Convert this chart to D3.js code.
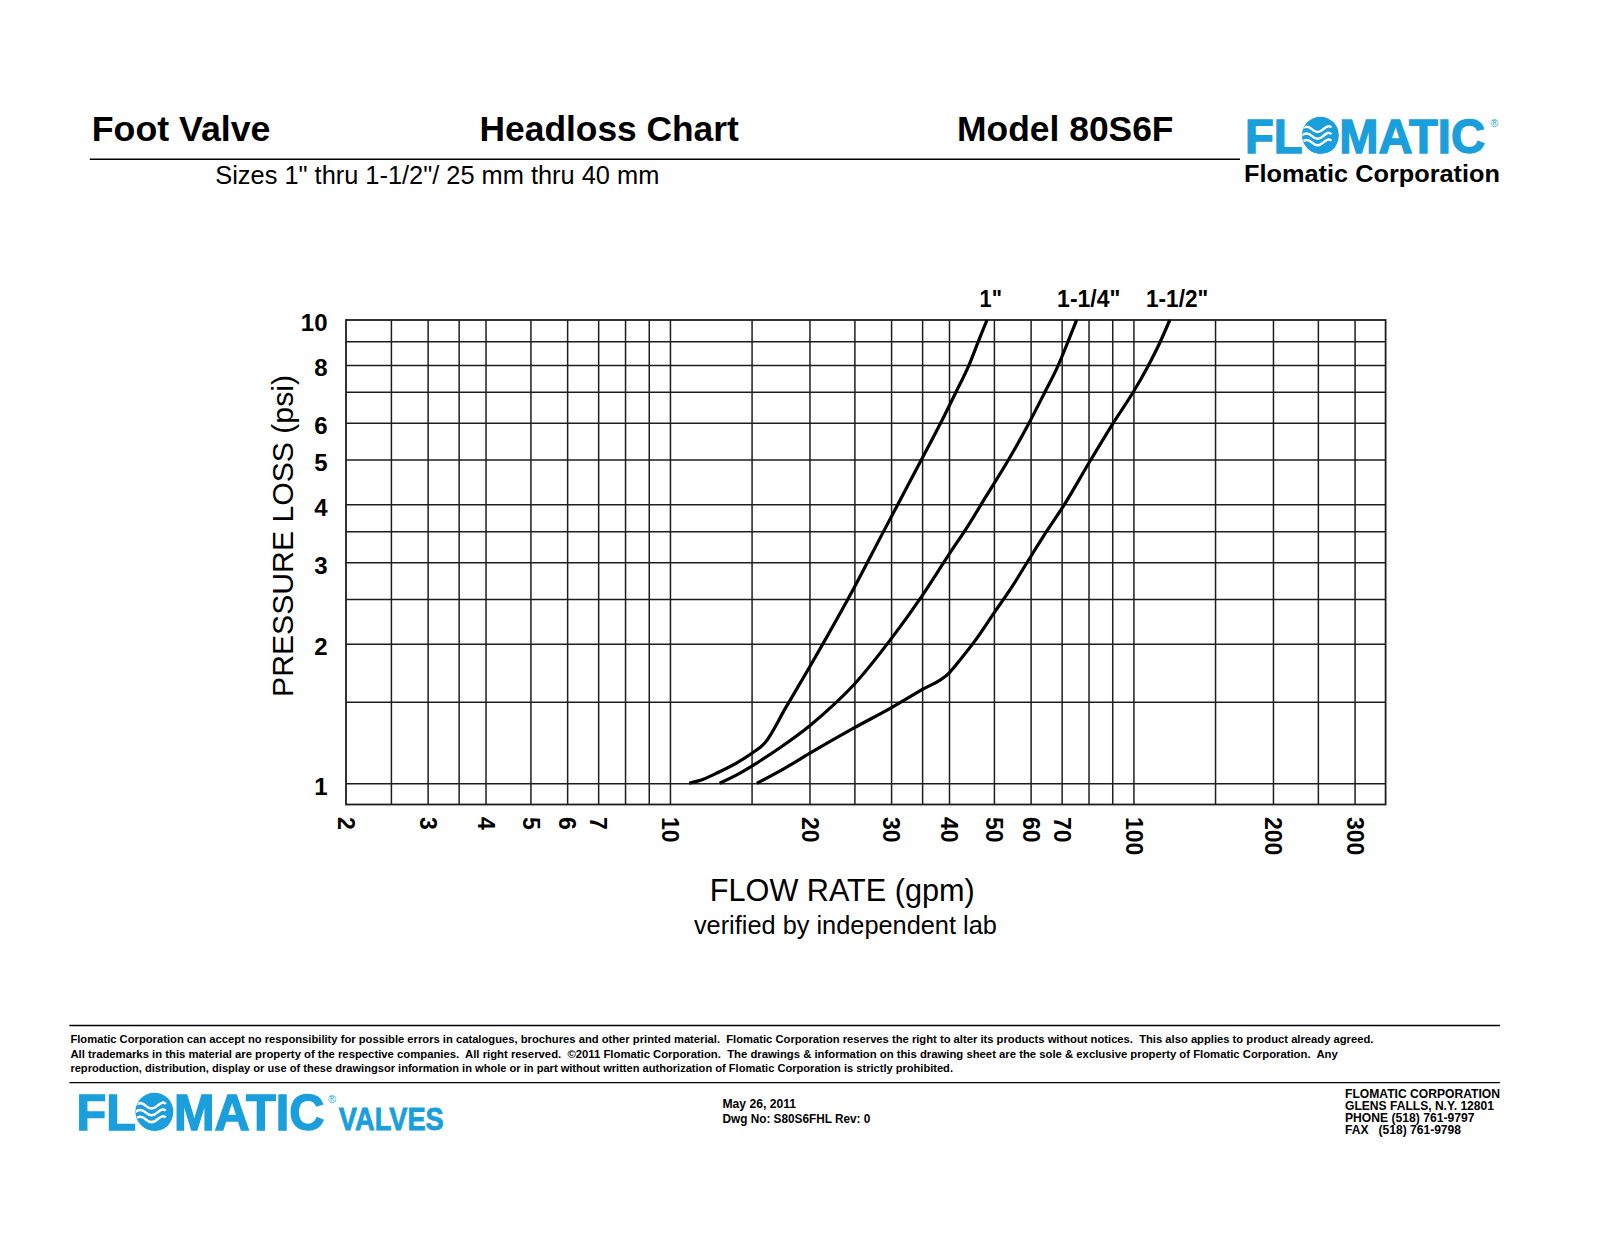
<!DOCTYPE html>
<html><head><meta charset="utf-8">
<script src="https://cdn.jsdelivr.net/npm/d3@7/dist/d3.min.js"></script>
<style>
body{margin:0;background:#fff;}
svg{display:block;}
text{font-family:"Liberation Sans", Arial, Helvetica, sans-serif;}
</style></head><body>
<svg id="c" width="1600" height="1237"></svg>
<script>
// ---------- DATA ----------
const xLabels = [2,3,4,5,6,7,10,20,30,40,50,60,70,100,200,300];
const yLabels = [1,2,3,4,5,6,8,10];
const xGrid = [2.5,3,3.5,4,5,6,7,8,9,10,15,20,25,30,35,40,50,60,70,80,90,100,150,200,250,300];
const yGrid = [1,1.5,2,2.5,3,3.5,4,5,6,7,8,9];
const seriesNames = ['1"', '1-1/4"', '1-1/2"'];
const flow1 = [11.0, 11.8, 12.7, 14.0, 15.0, 16.0, 17.8, 20, 21.5, 24.9, 28.7, 30.9, 34.9, 38.4, 41.3, 44.2, 46.3, 48.3];
const psi1  = [1.0, 1.02, 1.055, 1.11, 1.16, 1.22, 1.46, 1.78, 2.02, 2.63, 3.45, 3.97, 5.0, 6.0, 6.95, 8.0, 9.0, 10];
const flow2 = [12.8, 14.0, 15.7, 17.3, 20, 22.6, 24.9, 30, 34.9, 40, 44, 48, 53.8, 59.3, 64.0, 68.5, 72, 75.4];
const psi2  = [1.0, 1.045, 1.12, 1.195, 1.33, 1.48, 1.63, 2.05, 2.53, 3.12, 3.6, 4.15, 5.0, 5.95, 6.9, 7.9, 8.9, 10];
const flow3 = [15.4, 17.75, 20, 24.9, 30, 34.9, 40, 42.5, 45.5, 50, 54.5, 59, 65, 71, 80.5, 90.5, 100, 107.5, 113.8, 119.8];
const psi3  = [1.0, 1.08, 1.16, 1.315, 1.455, 1.59, 1.73, 1.86, 2.03, 2.33, 2.64, 3.0, 3.5, 4.0, 4.95, 6.0, 7.0, 7.95, 8.9, 10];
const xDomain = [2, 350];
const yDomain = [0.9, 10];

const disclaimer = [
 "Flomatic Corporation can accept no responsibility for possible errors in catalogues, brochures and other printed material.  Flomatic Corporation reserves the right to alter its products without notices.  This also applies to product already agreed.",
 "All trademarks in this material are property of the respective companies.  All right reserved.  \u00A92011 Flomatic Corporation.  The drawings & information on this drawing sheet are the sole & exclusive property of Flomatic Corporation.  Any",
 "reproduction, distribution, display or use of these drawingsor information in whole or in part without written authorization of Flomatic Corporation is strictly prohibited."
];
const dwgLines = ["May 26, 2011", "Dwg No: S80S6FHL Rev: 0"];
const addrLines = ["FLOMATIC CORPORATION", "GLENS FALLS, N.Y. 12801", "PHONE (518) 761-9797", "FAX   (518) 761-9798"];

// ---------- LAYOUT ----------
const BLUE = "#1a9fdc";
const svg = d3.select("#c");
svg.append("rect").attr("width",1600).attr("height",1237).attr("fill","#fff");

function addText(sel, s, x, y, o = {}) {
  const t = sel.append("text").attr("x", x).attr("y", y).text(s)
    .attr("font-size", o.size || 12).attr("font-weight", o.weight || "normal")
    .attr("fill", o.fill || "#000").attr("text-anchor", o.anchor || "start")
    .style("white-space", "pre");
  if (o.len) t.attr("textLength", o.len).attr("lengthAdjust", "spacingAndGlyphs");
  if (o.transform) t.attr("transform", o.transform);
  return t;
}

let clipN = 0;
function logo(g, x, baseline, width, size) {
  const t = addText(g, "FLOMATIC", x, baseline, {size, weight: "bold", fill: BLUE, len: width});
  t.attr("stroke", BLUE).attr("stroke-width", 1.4);
  const cx = x + width * (1.222 + 0.40) / 5.166;
  const capH = size * 0.716;
  const cy = baseline - capH / 2;
  const r = capH * 0.53;
  g.append("circle").attr("cx", cx).attr("cy", cy).attr("r", r).attr("fill", BLUE);
  const id = "clipO" + (clipN++);
  g.append("clipPath").attr("id", id).append("circle").attr("cx", cx).attr("cy", cy).attr("r", r - 0.5);
  const wg = g.append("g").attr("clip-path", `url(#${id})`);
  for (let i = -1; i <= 1; i++) {
    const yy = cy + i * r * 0.36 + r * 0.05;
    const x0 = cx - r * 1.05;
    wg.append("path")
      .attr("d", `M${x0},${yy} q${r*0.3},${-r*0.28} ${r*0.6},0 t${r*0.6},0 t${r*0.45},${-r*0.1}`)
      .attr("fill", "none").attr("stroke", "#fff").attr("stroke-width", r * 0.13);
  }
}

// ---------- HEADER ----------
const hdr = svg.append("g");
addText(hdr, "Foot Valve", 91.8, 140.5, {size: 35, weight: "bold", len: 178.6});
addText(hdr, "Headloss Chart", 479.6, 140.5, {size: 35, weight: "bold", len: 259.2});
addText(hdr, "Model 80S6F", 957.1, 140.5, {size: 35, weight: "bold", len: 216.4});
hdr.append("line").attr("x1", 89.8).attr("x2", 1240).attr("y1", 159.2).attr("y2", 159.2)
  .attr("stroke", "#000").attr("stroke-width", 1.5);
addText(hdr, 'Sizes 1" thru 1-1/2"/ 25 mm thru 40 mm', 215.3, 183.5, {size: 25.4, len: 444});
logo(hdr, 1245, 152.5, 240, 48.5);
addText(hdr, "\u00AE", 1490.5, 127, {size: 10.5, fill: BLUE});
addText(hdr, "Flomatic Corporation", 1244, 182, {size: 24.5, weight: "bold", len: 256});

// ---------- CHART ----------
const x = d3.scaleLog().domain(xDomain).range([346, 1385.6]);
const y = d3.scaleLog().domain(yDomain).range([804.5, 320]);
const plotW = x(xDomain[1]) - x(xDomain[0]);
const plotH = y(yDomain[0]) - y(yDomain[1]);
const chart = svg.append("g");

const gxg = chart.append("g").attr("transform", `translate(0,${y(yDomain[0])})`)
  .call(d3.axisBottom(x).tickValues(xGrid).tickSize(-plotH).tickFormat(""));
const gyg = chart.append("g").attr("transform", `translate(${x(xDomain[0])},0)`)
  .call(d3.axisLeft(y).tickValues(yGrid).tickSize(-plotW).tickFormat(""));
[gxg, gyg].forEach(g => {
  g.select(".domain").remove();
  g.selectAll("line").attr("stroke", "#1e1e1e").attr("stroke-width", 1.5);
});
chart.append("rect").attr("x", x(xDomain[0])).attr("y", y(yDomain[1]))
  .attr("width", plotW).attr("height", plotH)
  .attr("fill", "none").attr("stroke", "#1e1e1e").attr("stroke-width", 1.8);

// Y labels
const yAx = chart.append("g").attr("transform", "translate(327.5,0)")
  .call(d3.axisLeft(y).tickValues(yLabels).tickSize(0).tickPadding(0).tickFormat(d3.format("d")));
yAx.select(".domain").remove();
yAx.selectAll("text").attr("font-size", 24).attr("font-weight", "bold").attr("fill", "#000")
  .attr("font-family", '"Liberation Sans", Arial, sans-serif').attr("dy", "0.45em");

// X labels (rotated)
const xFs = 23;
const xAx = chart.append("g").attr("transform", "translate(0,817)")
  .call(d3.axisBottom(x).tickValues(xLabels).tickSize(0).tickPadding(0).tickFormat(d3.format("d")));
xAx.select(".domain").remove();
xAx.selectAll("text").attr("font-size", xFs).attr("font-weight", "bold").attr("fill", "#000")
  .attr("font-family", '"Liberation Sans", Arial, sans-serif')
  .attr("text-anchor", "start").attr("x", 0).attr("y", xFs * 0.358).attr("dy", 0)
  .attr("transform", "rotate(90)");

// curves
const line = d3.line().x(d => x(d[0])).y(d => y(d[1])).curve(d3.curveMonotoneX);
const series = [
  d3.zip(flow1, psi1),
  d3.zip(flow2, psi2),
  d3.zip(flow3, psi3)
];
chart.selectAll("path.curve").data(series).join("path").attr("class", "curve")
  .attr("d", line).attr("fill", "none").attr("stroke", "#000")
  .attr("stroke-width", 3.2).attr("stroke-linecap", "butt").attr("stroke-linejoin", "round");

// series labels
const labelX = [979.6, 1057.1, 1146];
const labelW = [22.4, 63.3, 62.2];
seriesNames.forEach((s, i) => addText(chart, s, labelX[i], 307, {size: 23, weight: "bold", len: labelW[i]}));

// axis titles
addText(chart, "PRESSURE LOSS (psi)", 0, 0, {size: 30, anchor: "middle", len: 322,
  transform: "translate(292.5,536) rotate(-90)"});
addText(chart, "FLOW RATE (gpm)", 842.3, 900.5, {size: 30.5, anchor: "middle", len: 265});
addText(chart, "verified by independent lab", 845.4, 933.5, {size: 25.5, anchor: "middle", len: 303});

// ---------- FOOTER ----------
const ft = svg.append("g");
ft.append("line").attr("x1", 69.4).attr("x2", 1500).attr("y1", 1025.5).attr("y2", 1025.5)
  .attr("stroke", "#000").attr("stroke-width", 1.3);
ft.append("line").attr("x1", 69.4).attr("x2", 1500).attr("y1", 1082.7).attr("y2", 1082.7)
  .attr("stroke", "#000").attr("stroke-width", 1.3);
const discW = [1303, 1267.4, 882.6];
disclaimer.forEach((s, i) => addText(ft, s, 70.4, 1043 + i * 14.7, {size: 11, weight: "bold", len: discW[i]}));
const dwgW = [73.5, 147.9];
dwgLines.forEach((s, i) => addText(ft, s, 722.5, 1108 + i * 14.5, {size: 12.5, weight: "bold", len: dwgW[i]}));
const addrW = [155, 149, 129.5, 116];
addrLines.forEach((s, i) => addText(ft, s, 1345, 1098 + i * 11.9, {size: 12, weight: "bold", len: addrW[i]}));
logo(ft, 76.5, 1129.6, 248, 50);
addText(ft, "\u00AE", 328, 1103, {size: 11, fill: BLUE});
addText(ft, "VALVES", 338.8, 1129.6, {size: 31, weight: "bold", fill: BLUE, len: 105}).attr("stroke", BLUE).attr("stroke-width", 0.8);
</script>
</body></html>
